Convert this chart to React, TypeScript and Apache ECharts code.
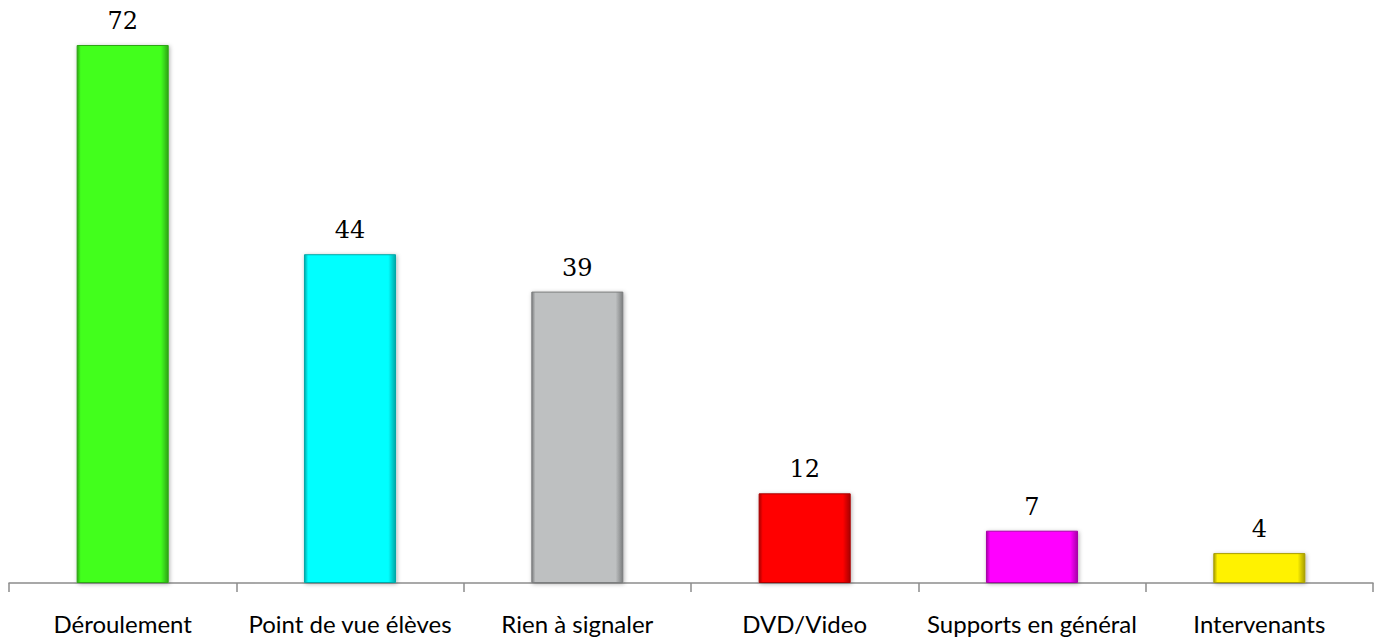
import React, { useEffect, useRef } from "react";
import * as echarts from "echarts";

const categories = ["Déroulement", "Point de vue élèves", "Rien à signaler", "DVD/Video", "Supports en général", "Intervenants"];
const values = [72, 44, 39, 12, 7, 4];
const colors = ["#42FF1E", "#00FFFF", "#BEC0C1", "#FF0000", "#FF00FF", "#FFF200"];
const borders = ["#2FA516", "#00A7A7", "#7C7E7F", "#A80000", "#A800A8", "#A89E00"];

export default function App() {
  const ref = useRef<HTMLDivElement>(null);
  useEffect(() => {
    const chart = echarts.init(ref.current!, undefined, { renderer: "svg" });
    chart.setOption({
      animation: false,
      grid: { left: 9, right: 8, top: 45, bottom: 57, containLabel: false },
      xAxis: {
        type: "category",
        data: categories,
        axisLine: { lineStyle: { color: "#8C8C8C", width: 1.5 } },
        axisTick: { show: true, length: 9, lineStyle: { color: "#8C8C8C", width: 1.5 } },
        axisLabel: { color: "#000", fontFamily: "Lato", fontSize: 24, margin: 28, interval: 0 },
      },
      yAxis: { type: "value", min: 0, max: 72, show: false, splitLine: { show: false } },
      series: [
        {
          type: "bar",
          barWidth: "40.5%",
          data: values.map((v, i) => ({
            value: v,
            itemStyle: {
              color: new echarts.graphic.LinearGradient(0, 0, 1, 0, [
                { offset: 0, color: borders[i] },
                { offset: 0.04, color: colors[i] },
                { offset: 0.92, color: colors[i] },
                { offset: 1, color: borders[i] },
              ]),
              borderColor: borders[i],
              borderWidth: 1,
              shadowColor: "rgba(0,0,0,0.3)",
              shadowBlur: 4,
              shadowOffsetX: 1,
              shadowOffsetY: 1,
            },
          })),
          label: {
            show: true,
            position: "top",
            distance: 12,
            color: "#000",
            fontFamily: "DejaVu Serif",
            fontSize: 24,
          },
        },
      ],
    });
    return () => chart.dispose();
  }, []);
  return <div ref={ref} style={{ position: "absolute", left: 0, top: 0, width: 1381, height: 640 }} />;
}
